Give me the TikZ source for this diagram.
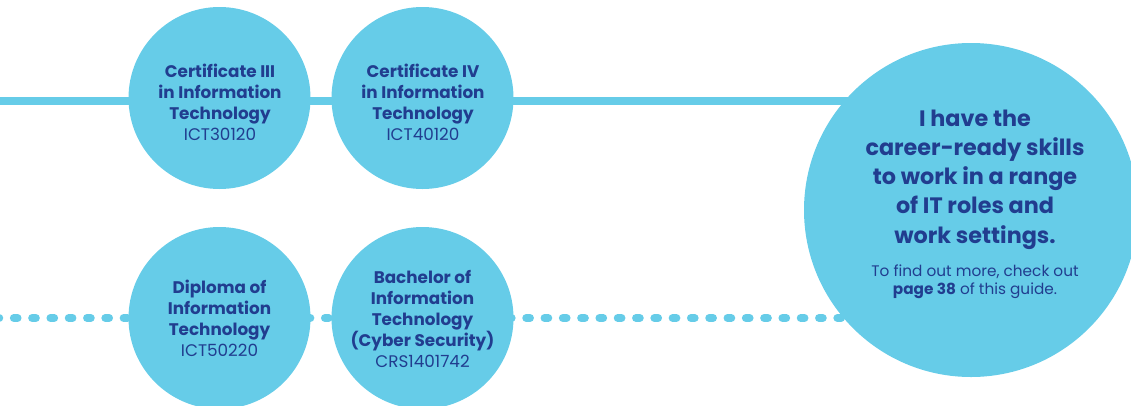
\documentclass[tikz,border=0pt]{standalone}
\usepackage{fontspec}
\setmainfont{Poppins}
\usetikzlibrary{backgrounds}
\definecolor{cfill}{HTML}{66CCE8}
\definecolor{navy}{HTML}{213D8F}
\begin{document}
\begin{tikzpicture}[x=1pt,y=-1pt,
  course/.style={circle, fill=cfill, minimum size=182pt, inner sep=0pt},
  coursetext/.style={text=navy, align=center, inner sep=0pt, font=\fontsize{16.8}{21}\selectfont},
  bigcirc/.style={circle, fill=cfill, minimum size=334pt, inner sep=0pt},
  bigtext/.style={text=navy, align=center, inner sep=0pt, font=\fontsize{22.3}{29.2}\selectfont\bfseries},
  notetext/.style={text=navy, align=center, inner sep=0pt, font=\fontsize{15.3}{18.5}\selectfont},
  solidline/.style={draw=cfill, line width=8pt},
  dotline/.style={draw=cfill, line width=8pt, line cap=round, dash pattern=on 3.7pt off 14.6pt},
  ]
\useasboundingbox (0,0) rectangle (1131,405);
\node[course] (c1) at (219.5,98) {};
\node[course] (c2) at (422.5,98) {};
\node[course] (c3) at (219.5,318) {};
\node[course] (c4) at (422.5,318) {};
\node[coursetext] (t1) at (220,102) {\textbf{Certificate III}\\\textbf{in Information}\\\textbf{Technology}\\ICT30120};
\node[coursetext] (t2) at (423,102) {\textbf{Certificate IV}\\\textbf{in Information}\\\textbf{Technology}\\ICT40120};
\node[coursetext] (t3) at (219.5,318) {\textbf{Diploma of}\\\textbf{Information}\\\textbf{Technology}\\ICT50220};
\node[coursetext] (t4) at (422.5,319) {\textbf{Bachelor of}\\\textbf{Information}\\\textbf{Technology}\\\textbf{(Cyber Security)}\\CRS1401742};
\node[bigcirc] (big) at (971,210) {};
\node[bigtext] (bt) at (975,179.5) {I have the\\career-ready skills\\to work in a range\\of IT roles and\\work settings.};
\node[notetext] (nt) at (975,282) {To find out more, check out\\\textbf{page 38} of this guide.};
\begin{scope}[on background layer]
\coordinate (s0) at (-10,101);
\draw[solidline] (s0) -- (s0 -| big.center);
\coordinate (d0) at (-22.75,318);
\draw[dotline] (d0) -- (d0 -| big.center);
\end{scope}
\end{tikzpicture}
\end{document}
